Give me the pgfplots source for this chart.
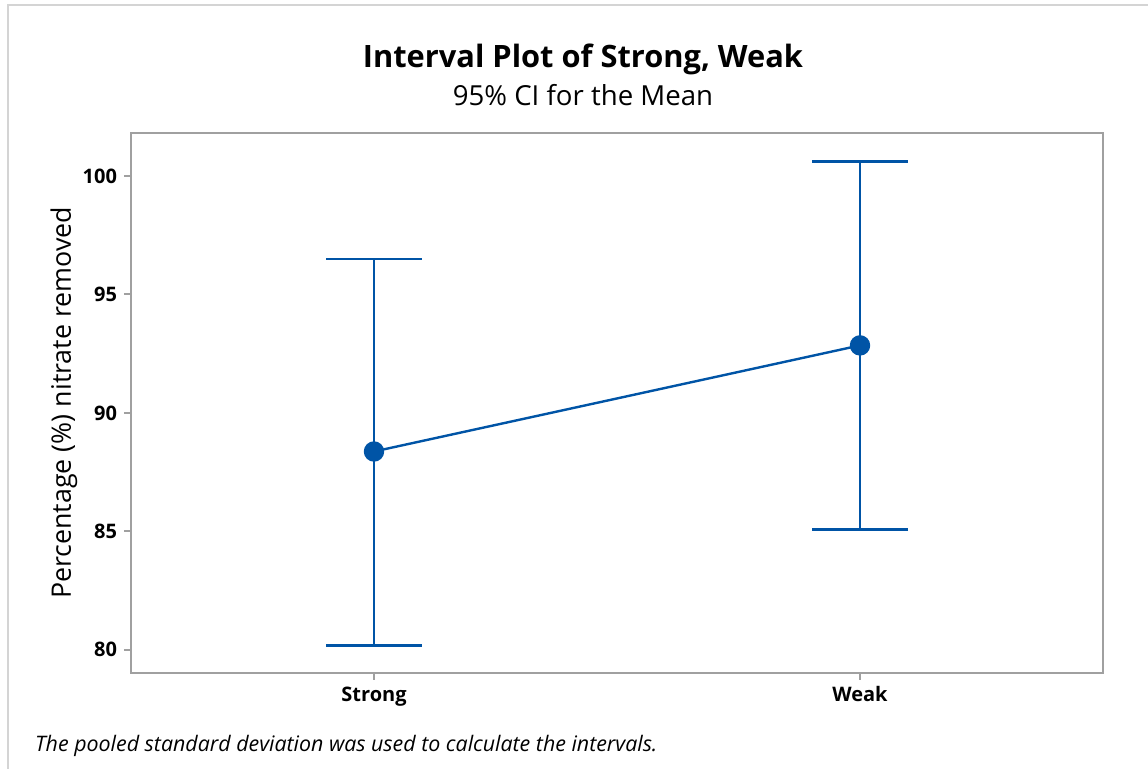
\documentclass[border=0pt]{standalone}
\usepackage{pgfplots}
\pgfplotsset{compat=1.18}
\usepackage{fontspec}
\setmainfont{Open Sans}
\definecolor{mblue}{HTML}{0054A6}
\definecolor{axisgray}{HTML}{A0A0A0}
\definecolor{framegray}{HTML}{D4D4D4}

\begin{document}
\begin{tikzpicture}
\useasboundingbox (0,0) rectangle (574pt,384.5pt);
\draw[framegray, line width=1pt] (3.75pt,0) -- (3.75pt,381.75pt) -- (574pt,381.75pt);

% titles
\node[anchor=base, font=\bfseries\fontsize{15.4}{18}\selectfont] at (291.5pt,350.5pt) {Interval Plot of Strong, Weak};
\node[anchor=base, font=\fontsize{13.8}{16}\selectfont] at (291.5pt,331.5pt) {95\% CI for the Mean};

\begin{axis}[
    at={(65.5pt,48.15pt)}, anchor=south west,
    scale only axis,
    width=486pt, height=269.85pt,
    xmin=0.5, xmax=2.5,
    ymin=79.03, ymax=101.82,
    xtick={1,2}, xticklabels={Strong,Weak},
    ytick={80,85,90,95,100},
    axis line style={axisgray, line width=1pt},
    tick style={axisgray, line width=1pt},
    tick align=outside,
    major tick length=3.5pt,
    xtick pos=bottom, ytick pos=left,
    /pgf/number format/assume math mode=true,
    ticklabel style={font=\bfseries\fontsize{10}{12}\selectfont, black},
    ylabel={Percentage (\%) nitrate removed},
    ylabel style={at={(axis description cs:-0.069,0.5)}, anchor=center, font=\fontsize{13.4}{15}\selectfont},
]
\addplot[color=mblue, line width=1.2pt, mark=*, mark size=4.5pt,
    error bars/.cd, y dir=both, y explicit, error mark=|,
    error bar style={mblue, line width=1.2pt},
    error mark options={mblue, line width=1.3pt, mark size=24pt}]
  coordinates {
    (1,88.37) += (0,8.13) -= (0,8.18)
    (2,92.85) += (0,7.77) -= (0,7.77)
  };
\end{axis}

\node[anchor=base west, font=\itshape\fontsize{10.7}{12}\selectfont] at (14pt,8.7pt) {The pooled standard deviation was used to calculate the intervals.};
\end{tikzpicture}
\end{document}
